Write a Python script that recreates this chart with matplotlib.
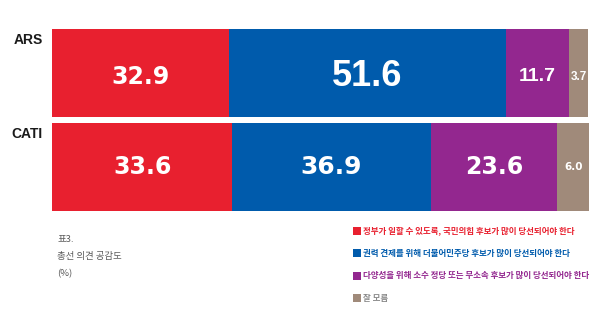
import matplotlib
matplotlib.use("Agg")
import matplotlib.pyplot as plt
from matplotlib.patches import Rectangle
from matplotlib.transforms import blended_transform_factory

# 데이터
methods = ['ARS', 'CATI']
gov_support = [32.9, 33.6]      # 국민의힘
check_power = [51.6, 36.9]      # 더불어민주당
diversity = [11.7, 23.6]        # 소수 정당 / 무소속
dont_know = [3.7, 6.0]          # 잘 모름
legend_labels = [
    '정부가 일할 수 있도록, 국민의힘 후보가 많이 당선되어야 한다',
    '권력 견제를 위해 더불어민주당 후보가 많이 당선되어야 한다',
    '다양성을 위해 소수 정당 또는 무소속 후보가 많이 당선되어야 한다',
    '잘 모름',
]
note_lines = ['표3.', '총선 의견 공감도', '(%)']

colors = ['#E8202F', '#005BAC', '#93278F', '#A08A7A']
legend_text_colors = ['#E8202F', '#005BAC', '#93278F', '#8A8A8A']

# 값 라벨 스타일 (행, 열)
big_font = ['DejaVu Sans']
narrow_font = ['Liberation Sans']
label_styles = [
    [(big_font, 17), (narrow_font, 26), (narrow_font, 14), (narrow_font, 8.5)],
    [(big_font, 17), (big_font, 18), (big_font, 17), (big_font, 7.5)],
]

W, H = 600, 309
fig = plt.figure(figsize=(W / 100, H / 100), dpi=100)
fig.patch.set_facecolor('white')
ax = fig.add_axes([52 / W, 1 - 211 / H, 537 / W, (211 - 29) / H])

bar_h = 0.936
series = [gov_support, check_power, diversity, dont_know]
ypos = list(range(len(methods)))
left = [0.0] * len(methods)
for s_idx, (vals, col) in enumerate(zip(series, colors)):
    bars = ax.barh(ypos, vals, left=left, height=bar_h, color=col, edgecolor='none')
    for r, (b, v) in enumerate(zip(bars, vals)):
        fam, size = label_styles[r][s_idx]
        dy = 0.04 if r == 0 else 0.0
        ax.text(b.get_x() + b.get_width() / 2, r + dy, f'{v:.1f}',
                ha='center', va='center', color='white', fontsize=size,
                fontweight='bold', family=fam)
    left = [l + v for l, v in zip(left, vals)]

ax.set_xlim(0, 100)
ax.set_ylim(len(methods) - 1 + bar_h / 2, -bar_h / 2)
ax.axis('off')

trans = blended_transform_factory(ax.transAxes, ax.transData)
for r, m in enumerate(methods):
    ax.text(-9 / 537, r - bar_h / 2 + 0.12, m, transform=trans, ha='right', va='center',
            fontsize=10, fontweight='bold', family=narrow_font, color='#1a1a1a')

# 범례
row_y = [230.5, 253, 275.5, 298]
for lab, col, tcol, y in zip(legend_labels, colors, legend_text_colors, row_y):
    fig.patches.append(Rectangle((353 / W, 1 - (y + 4) / H), 8 / W, 8 / H,
                                 transform=fig.transFigure, facecolor=col, edgecolor='none'))
    fig.text(363 / W, 1 - y / H, lab, ha='left', va='center', fontsize=6.1,
             fontweight='bold', color=tcol, family=['Noto Sans CJK KR', 'DejaVu Sans'])

# 표 설명
note_y = [240, 257, 274]
for line, y in zip(note_lines, note_y):
    fig.text(57 / W, 1 - y / H, line, ha='left', va='center', fontsize=6.8,
             color='#5a5a5a', family=['Noto Sans CJK KR', 'DejaVu Sans'])

fig.savefig('out.png', dpi=100, facecolor='white')
